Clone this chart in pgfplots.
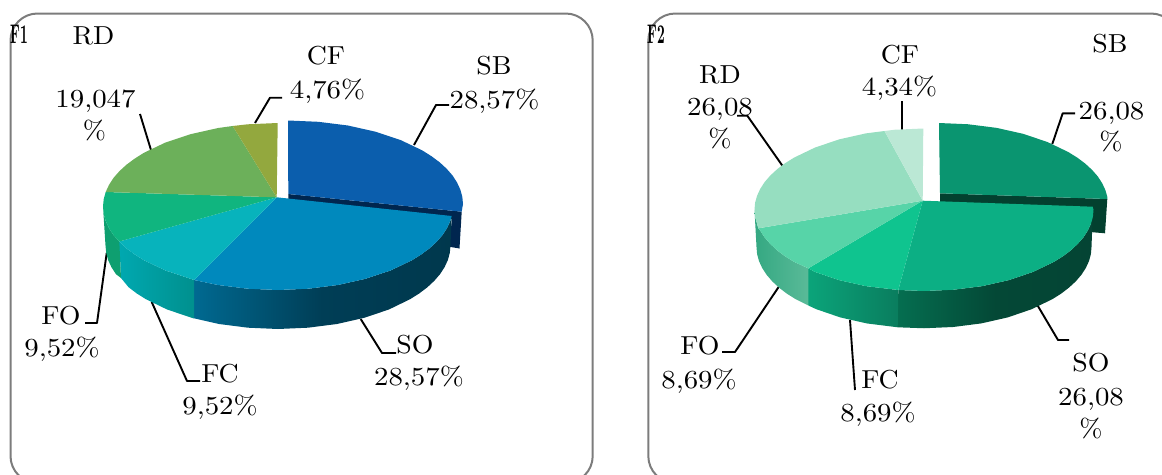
\documentclass[border=0pt]{standalone}
\usepackage{pgfplots}
\pgfplotsset{compat=1.18}

% face colours, left panel
\definecolor{sbA}{HTML}{0B5EAD}
\definecolor{soA}{HTML}{0089BD}
\definecolor{fcA}{HTML}{07B3BC}
\definecolor{foA}{HTML}{10B57F}
\definecolor{rdA}{HTML}{6CB05A}
\definecolor{cfA}{HTML}{93A83E}
\definecolor{cutA}{HTML}{00264F}
% face colours, right panel
\definecolor{sbB}{HTML}{0A9570}
\definecolor{soB}{HTML}{0CAF84}
\definecolor{fcB}{HTML}{0FC48F}
\definecolor{foB}{HTML}{57D4A8}
\definecolor{rdB}{HTML}{96DEC0}
\definecolor{cfB}{HTML}{BBE8D5}
\definecolor{cutB}{HTML}{03402F}
\definecolor{frame}{HTML}{7C7C7C}
% rim colours
\definecolor{rSOa1}{HTML}{006A92}
\definecolor{rSOa2}{HTML}{003E56}
\definecolor{rSOa3}{HTML}{00384D}
\definecolor{rFCa1}{HTML}{00A8B0}
\definecolor{rFCa2}{HTML}{00908E}
\definecolor{rSOb1}{HTML}{056E50}
\definecolor{rSOb2}{HTML}{044836}
\definecolor{rSOb3}{HTML}{044434}
\definecolor{rFCb1}{HTML}{0BA47A}
\definecolor{rFCb2}{HTML}{0A7D5E}
\definecolor{rFOb1}{HTML}{34A882}
\definecolor{rFOb2}{HTML}{5ABA98}

% rim shadings; the stops at 25bp and 75bp fall on the edges of the shaded shape
\pgfdeclarehorizontalshading{rimSOa}{100bp}{color(0bp)=(rSOa1); color(25bp)=(rSOa1); color(50bp)=(rSOa2); color(75bp)=(rSOa3); color(100bp)=(rSOa3)}
\pgfdeclarehorizontalshading{rimFCa}{100bp}{color(0bp)=(rFCa1); color(25bp)=(rFCa1); color(75bp)=(rFCa2); color(100bp)=(rFCa2)}
\pgfdeclarehorizontalshading{rimSOb}{100bp}{color(0bp)=(rSOb1); color(25bp)=(rSOb1); color(50bp)=(rSOb2); color(75bp)=(rSOb3); color(100bp)=(rSOb3)}
\pgfdeclarehorizontalshading{rimFCb}{100bp}{color(0bp)=(rFCb1); color(25bp)=(rFCb1); color(75bp)=(rFCb2); color(100bp)=(rFCb2)}
\pgfdeclarehorizontalshading{rimFOb}{100bp}{color(0bp)=(rFOb1); color(25bp)=(rFOb1); color(75bp)=(rFOb2); color(100bp)=(rFOb2)}

% the text face at its 10pt design, which has the wider digits
\font\lblfont="[lmroman10-regular]" at 26pt
\font\tagfont="[lmroman10-bold]" at 27pt
\newcommand{\lab}[3]{\node[anchor=base,inner sep=0pt,xscale=1.07] at (axis cs:#1,#2) {\lblfont #3};}
\newcommand{\val}[3]{\node[anchor=base,inner sep=0pt,xscale=1.11] at (axis cs:#1,#2) {\lblfont #3};}
\newcommand{\tag}[3]{\node[anchor=base,inner sep=0pt,xscale=.5] at (axis cs:#1,#2) {\tagfont #3};}

\begin{document}
\begin{tikzpicture}
\begin{axis}[
  width=1162pt, height=474pt, scale only axis,
  xmin=0, xmax=1162, ymin=0, ymax=474, y dir=reverse,
  axis lines=none, clip=false, no markers,
  every axis plot/.append style={line join=round}
]
% page extent
\path (axis cs:0,0) rectangle (axis cs:1162,474);
% panel frames
\draw[overlay,frame,line width=2pt,rounded corners=27pt] (axis cs:10.5,13.5) rectangle (axis cs:592.7,483);
\draw[overlay,frame,line width=2pt,rounded corners=27pt] (axis cs:648.3,13.5) rectangle (axis cs:1178,483);

% leader lines, left panel
\addplot[black,line width=1.9pt] coordinates {(255,123) (270,97.7) (282,97.7)};
\addplot[black,line width=1.9pt] coordinates {(140,114) (151,150)};
\addplot[black,line width=1.9pt] coordinates {(414,145) (436,105) (449,105)};
\addplot[black,line width=1.9pt] coordinates {(360.7,319) (382,353) (396,353)};
\addplot[black,line width=1.9pt] coordinates {(151.7,302) (187,381) (200,381)};
\addplot[black,line width=1.9pt] coordinates {(106.7,253) (97,323) (85,323)};
% leader lines, right panel
\addplot[black,line width=1.9pt] coordinates {(902.3,101) (902.3,130)};
\addplot[black,line width=1.9pt] coordinates {(737,115.7) (747.3,115.7) (783.3,167)};
\addplot[black,line width=1.9pt] coordinates {(1052.3,144) (1062.7,113.3) (1075,113.3)};
\addplot[black,line width=1.9pt] coordinates {(1037.3,305) (1058,340) (1069,340)};
\addplot[black,line width=1.9pt] coordinates {(850,320) (855,390)};
\addplot[black,line width=1.9pt] coordinates {(779.3,286) (735,352) (722,352)};

%%% left pie
% cut face and rim of the pulled-out slice
\addplot[fill=cutA,draw=none] coordinates {(288.3,194) (461.7,211.7) (459.5,248.5) (449,246.7) (452,219) (288.3,201)} -- cycle;
% rims
\addplot[draw=none,shading=rimSOa] coordinates {
 (451.7,216) (450.3,221) (447,228.1) (442.5,235.1) (436.6,241.8) (429.6,248.25) (421.3,254.4) (412.1,260.2) (390.5,270.5) (365.5,278.8) (337.9,285) (308.4,288.7) (278,290) (247.6,288.7) (218.1,285) (194,280)
 (191.75,317.8) (219,324) (248,327.7) (278,329) (308,327.7) (337,324) (364.25,317.8) (388.9,309.5) (410.1,299.2) (419.3,293.4) (427.4,287.25) (434.3,280.8) (440.1,274.1) (444.6,267.1) (447.9,260) (449.8,252.8) (450.5,245.5)
} -- cycle;
\addplot[draw=none,shading=rimFCa] coordinates {
 (194,280) (190.5,278.8) (165.5,270.5) (143.9,260.2) (134.7,254.4) (126.4,248.25) (119.3,241.5)
 (121,278) (128.6,287.25) (136.7,293.4) (145.9,299.2) (167.1,309.5) (191.75,317.8) (194,318.3)
} -- cycle;
\addplot[fill=foA!88!black,draw=none] coordinates {
 (119.3,241.5) (113.5,235.1) (109,228.1) (105.7,221) (103.7,213.8) (103,206.5) (105.5,245.5) (106.2,252.8) (108.1,260) (111.4,267.1) (115.9,274.1) (121,278)
} -- cycle;
% top faces
\addplot[fill=sbA,draw=none] coordinates {
 (288.3,194) (461.7,211.7) (463,204) (462.3,196.7) (460.3,189.5) (457,182.4) (452.5,175.4) (446.6,168.7) (439.6,162.25) (431.3,156.1) (422.1,150.3) (400.5,140) (375.5,131.7) (347.9,125.5) (318.4,121.8) (288,120.5)
} -- cycle;
\addplot[fill=soA,draw=none] coordinates {
 (276.7,197.3) (451.7,216) (450.3,221) (447,228.1) (442.5,235.1) (436.6,241.8) (429.6,248.25) (421.3,254.4) (412.1,260.2) (390.5,270.5) (365.5,278.8) (337.9,285) (308.4,288.7) (278,290) (247.6,288.7) (218.1,285) (194,280)
} -- cycle;
\addplot[fill=fcA,draw=none] coordinates {
 (276.7,197.3) (194,280) (190.5,278.8) (165.5,270.5) (143.9,260.2) (134.7,254.4) (126.4,248.25) (119.3,241.5)
} -- cycle;
\addplot[fill=foA,draw=none] coordinates {
 (276.7,197.3) (119.3,241.5) (113.5,235.1) (109,228.1) (105.7,221) (103.7,213.8) (103,206.5) (103.7,199.2) (105.7,192)
} -- cycle;
\addplot[fill=rdA,draw=none] coordinates {
 (276.7,197.3) (105.7,192) (109,184.9) (113.5,177.9) (119.4,171.2) (126.4,164.75) (134.7,158.6) (143.9,152.8) (165.5,142.5) (190.5,134.2) (218.1,128) (232.7,126)
} -- cycle;
\addplot[fill=cfA,draw=none] coordinates {
 (276.7,197.3) (232.7,126) (247.6,124.3) (277.7,123)
} -- cycle;

%%% right pie
\addplot[fill=cutB,draw=none] coordinates {(940,193.3) (1107.3,199) (1105,233.3) (1090,232) (1092.7,209) (940,203)} -- cycle;
\addplot[draw=none,shading=rimSOb] coordinates {
 (1093,207) (1092.9,216.85) (1090.9,223.85) (1087.7,230.75) (1083.3,237.55) (1077.6,244.05) (1070.8,250.35) (1062.8,256.35) (1053.8,261.95) (1033,271.95) (1008.75,280.15) (982,286.15) (953.4,289.75) (924,291) (898.3,290)
 (897.7,327.3) (924,328.25) (953.1,327) (981.3,323.4) (1007.75,317.4) (1031.7,309.2) (1052.3,299.2) (1061.2,293.6) (1069,287.6) (1075.8,281.3) (1081.4,274.8) (1085.8,268) (1089,261.1) (1090.9,254.1) (1091.5,247)
} -- cycle;
\addplot[draw=none,shading=rimFCb] coordinates {
 (898.3,290) (866,286.15) (839.25,280.15) (815,271.95) (808.3,268.3)
 (808.3,305.5) (816.3,309.2) (840.25,317.4) (866.7,323.4) (897.7,327.3)
} -- cycle;
\addplot[draw=none,shading=rimFOb] coordinates {
 (808.3,268.3) (794.2,261.95) (785.2,256.35) (777.2,250.35) (770.4,244.05) (764.7,237.55) (760.3,230.75) (758.3,228.3) (755.1,216.85) (754.5,209.75)
 (756.5,247) (757.1,254.1) (759,261.1) (762.2,268) (766.6,274.8) (772.2,281.3) (779,287.6) (786.8,293.6) (795.7,299.2) (808.3,305.5)
} -- cycle;
\addplot[fill=sbB,draw=none] coordinates {
 (940,193.3) (1107.3,199) (1107.4,197.15) (1105.4,190.15) (1102.2,183.25) (1097.8,176.45) (1092.1,169.95) (1085.3,163.65) (1077.3,157.65) (1068.3,152.05) (1047.5,142.05) (1023.25,133.85) (996.5,127.85) (967.9,124.25) (939,123)
} -- cycle;
\addplot[fill=soB,draw=none] coordinates {
 (922.7,200.7) (1092.7,206.7) (1093.5,209.75) (1092.9,216.85) (1090.9,223.85) (1087.7,230.75) (1083.3,237.55) (1077.6,244.05) (1070.8,250.35) (1062.8,256.35) (1053.8,261.95) (1033,271.95) (1008.75,280.15) (982,286.15) (953.4,289.75) (924,291) (898.3,290)
} -- cycle;
\addplot[fill=fcB,draw=none] coordinates {
 (922.7,200.7) (898.3,290) (866,286.15) (839.25,280.15) (815,271.95) (808.3,268.3)
} -- cycle;
\addplot[fill=foB,draw=none] coordinates {
 (922.7,200.7) (808.3,268.3) (794.2,261.95) (785.2,256.35) (777.2,250.35) (770.4,244.05) (764.7,237.55) (760.3,230.75) (758.3,228.3)
} -- cycle;
\addplot[fill=rdB,draw=none] coordinates {
 (922.7,200.7) (758.3,228.3) (757.1,223.85) (755.1,216.85) (754.5,209.75) (755.1,202.65) (757.1,195.65) (760.3,188.75) (764.7,181.95) (770.4,175.45) (777.2,169.15) (785.2,163.15) (794.2,157.55) (815,147.55) (839.25,139.35) (866,133.35) (884.5,131)
} -- cycle;
\addplot[fill=cfB,draw=none] coordinates {
 (922.7,200.7) (884.5,131) (894.6,129.75) (923.3,128.5)
} -- cycle;

% labels, left panel
\tag{19}{43}{F1}
\lab{93.5}{44}{RD}
\val{95.5}{107.7}{19,047}
\lab{94.5}{139}{\%}
\lab{326}{64}{CF}
\val{327.5}{98}{4,76\%}
\lab{494}{74}{SB}
\val{494.5}{108}{28,57\%}
\lab{415}{353}{SO}
\val{419}{385}{28,57\%}
\lab{220}{382}{FC}
\val{220}{414}{9,52\%}
\lab{61}{324}{FO}
\val{62}{356}{9,52\%}
% labels, right panel
\tag{656}{43}{F2}
\lab{900}{63.3}{CF}
\val{899.5}{95.7}{4,34\%}
\lab{1110}{52}{SB}
\lab{720}{83.3}{RD}
\val{720}{115.7}{26,08}
\lab{720}{147}{\%}
\val{1111.5}{119}{26,08}
\lab{1111}{150}{\%}
\lab{1091}{371}{SO}
\val{1091}{405}{26,08}
\lab{1091}{437}{\%}
\lab{880}{388}{FC}
\val{878}{421}{8,69\%}
\lab{700}{354}{FO}
\val{699}{388}{8,69\%}
\end{axis}
\end{tikzpicture}
\end{document}
